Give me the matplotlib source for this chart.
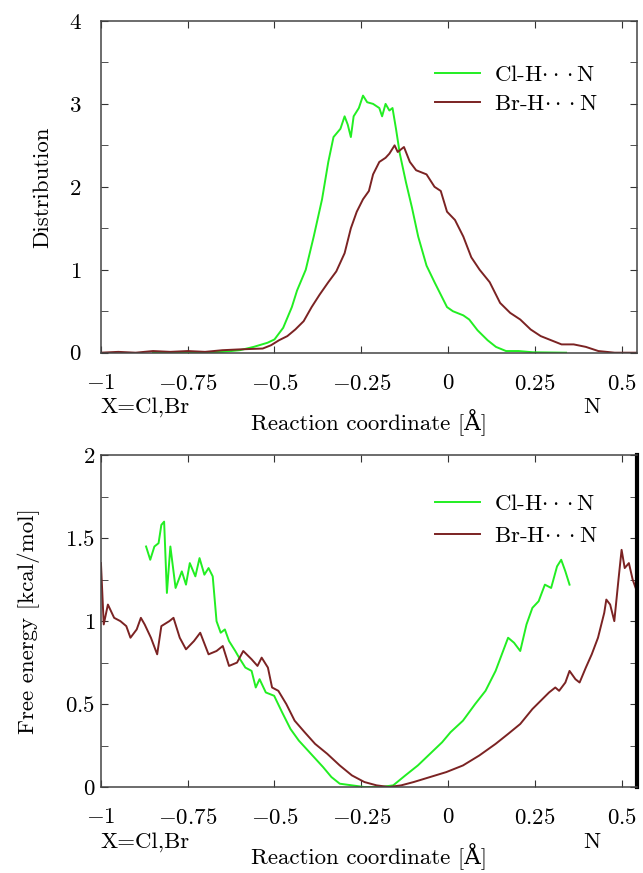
import numpy as np
import matplotlib
matplotlib.use("Agg")
import matplotlib.pyplot as plt
from matplotlib.ticker import MultipleLocator, FuncFormatter

plt.rcParams["font.family"] = ["cmr10", "DejaVu Serif"]
plt.rcParams["mathtext.fontset"] = "cm"
plt.rcParams["axes.unicode_minus"] = False

GREEN = "#22ee22"; BROWN = "#7b2323"
FS = 16.5

# ---- distribution (top) ----
cl_dist_x = [-0.85, -0.75, -0.65, -0.6, -0.56, -0.52, -0.5, -0.475, -0.45, -0.435, -0.41, -0.387,
             -0.363, -0.345, -0.33, -0.31, -0.298, -0.289, -0.28, -0.272, -0.257, -0.245, -0.233,
             -0.216, -0.198, -0.19, -0.18, -0.169, -0.16, -0.15, -0.139, -0.121, -0.104, -0.086,
             -0.062, -0.039, -0.021, -0.003, 0.014, 0.044, 0.061, 0.085, 0.114, 0.138, 0.167,
             0.203, 0.245, 0.34]
cl_dist_y = [0.0, 0.0, 0.01, 0.03, 0.07, 0.12, 0.16, 0.3, 0.55, 0.75, 1.0, 1.4,
             1.85, 2.3, 2.6, 2.7, 2.85, 2.75, 2.6, 2.85, 2.95, 3.1, 3.02,
             3.0, 2.95, 2.85, 3.0, 2.92, 2.95, 2.7, 2.4, 2.05, 1.75, 1.4,
             1.05, 0.85, 0.7, 0.55, 0.5, 0.45, 0.4, 0.27, 0.15, 0.07, 0.02,
             0.02, 0.005, 0.0]
br_dist_x = [-1.0, -0.95, -0.9, -0.85, -0.8, -0.75, -0.7, -0.65, -0.6, -0.534, -0.51, -0.487,
             -0.463, -0.44, -0.416, -0.393, -0.37, -0.345, -0.322, -0.298, -0.28, -0.263, -0.245,
             -0.228, -0.216, -0.198, -0.18, -0.169, -0.154, -0.145, -0.127, -0.11, -0.092, -0.062,
             -0.039, -0.021, -0.003, 0.02, 0.044, 0.067, 0.091, 0.12, 0.15, 0.179, 0.208, 0.238,
             0.267, 0.297, 0.327, 0.362, 0.397, 0.433, 0.48, 0.545]
br_dist_y = [0.0, 0.01, 0.0, 0.02, 0.01, 0.02, 0.01, 0.03, 0.04, 0.05, 0.09, 0.15,
             0.2, 0.28, 0.38, 0.55, 0.7, 0.85, 0.98, 1.2, 1.5, 1.7, 1.85,
             1.95, 2.15, 2.3, 2.35, 2.4, 2.5, 2.42, 2.48, 2.3, 2.2, 2.15,
             2.0, 1.95, 1.7, 1.6, 1.4, 1.15, 1.0, 0.85, 0.6, 0.48, 0.4, 0.28,
             0.2, 0.15, 0.1, 0.1, 0.07, 0.02, 0.0, 0.0]

# ---- free energy (bottom) ----
cl_fe_x = [-0.87, -0.858, -0.846, -0.834, -0.826, -0.818, -0.81, -0.8, -0.785, -0.767, -0.755,
           -0.744, -0.728, -0.716, -0.702, -0.69, -0.678, -0.667, -0.655, -0.643, -0.631, -0.613,
           -0.602, -0.584, -0.566, -0.554, -0.543, -0.525, -0.501, -0.478, -0.454, -0.43, -0.395,
           -0.36, -0.336, -0.312, -0.277, -0.241, -0.194, -0.158, -0.123, -0.087, -0.052, -0.017,
           0.007, 0.043, 0.078, 0.108, 0.137, 0.155, 0.173, 0.19, 0.208, 0.226, 0.243, 0.261,
           0.279, 0.297, 0.314, 0.326, 0.338, 0.35]
cl_fe_y = [1.45, 1.37, 1.45, 1.47, 1.58, 1.6, 1.17, 1.45, 1.2, 1.3, 1.22,
           1.35, 1.27, 1.38, 1.28, 1.32, 1.27, 1.0, 0.93, 0.95, 0.88, 0.82,
           0.78, 0.72, 0.7, 0.6, 0.65, 0.57, 0.55, 0.45, 0.35, 0.28, 0.2,
           0.12, 0.06, 0.02, 0.01, 0.0, 0.0, 0.01, 0.07, 0.13, 0.2, 0.27,
           0.33, 0.4, 0.5, 0.58, 0.7, 0.8, 0.9, 0.87, 0.82, 0.98, 1.08, 1.12,
           1.22, 1.2, 1.33, 1.37, 1.3, 1.22]
br_fe_x = [-1.0, -0.992, -0.98, -0.962, -0.944, -0.927, -0.915, -0.897, -0.885, -0.874, -0.856,
           -0.838, -0.826, -0.803, -0.791, -0.773, -0.755, -0.732, -0.714, -0.69, -0.667, -0.649,
           -0.631, -0.608, -0.59, -0.566, -0.549, -0.537, -0.519, -0.507, -0.489, -0.466, -0.442,
           -0.413, -0.383, -0.348, -0.312, -0.277, -0.241, -0.206, -0.17, -0.135, -0.099, -0.052,
           -0.005, 0.043, 0.09, 0.137, 0.173, 0.208, 0.243, 0.267, 0.291, 0.309, 0.32, 0.338,
           0.35, 0.367, 0.379, 0.397, 0.414, 0.432, 0.45, 0.456, 0.467, 0.479, 0.491, 0.5,
           0.509, 0.521, 0.532, 0.544]
br_fe_y = [1.35, 0.98, 1.1, 1.02, 1.0, 0.97, 0.9, 0.95, 1.02, 0.98, 0.9,
           0.8, 0.97, 1.0, 1.02, 0.9, 0.83, 0.88, 0.93, 0.8, 0.82, 0.85,
           0.73, 0.75, 0.82, 0.77, 0.73, 0.78, 0.72, 0.6, 0.58, 0.5, 0.4,
           0.33, 0.26, 0.2, 0.13, 0.07, 0.03, 0.01, 0.0, 0.01, 0.03, 0.06,
           0.09, 0.13, 0.19, 0.26, 0.32, 0.38, 0.47, 0.52, 0.57, 0.6, 0.58, 0.63,
           0.7, 0.65, 0.63, 0.72, 0.8, 0.9, 1.05, 1.13, 1.1, 1.0, 1.25, 1.43,
           1.32, 1.35, 1.25, 1.18]

xticks = [-1, -0.75, -0.5, -0.25, 0, 0.25, 0.5]
fmt = FuncFormatter(lambda v, p: f"${v:g}$")
cl_lab = r"Cl-H$\cdot\cdot\cdot$N"
br_lab = r"Br-H$\cdot\cdot\cdot$N"

fig = plt.figure(figsize=(6.43, 8.73), dpi=100)
ax1 = fig.add_axes([0.157, 0.596, 0.834, 0.380])
ax2 = fig.add_axes([0.157, 0.0985, 0.834, 0.380])

def style(ax, ymax, ymaj, ymin, ypad):
    ax.set_xlim(-1, 0.545); ax.set_ylim(0, ymax)
    ax.set_xticks(xticks); ax.xaxis.set_major_formatter(fmt)
    ax.yaxis.set_major_locator(MultipleLocator(ymaj)); ax.yaxis.set_minor_locator(MultipleLocator(ymin))
    ax.yaxis.set_major_formatter(fmt)
    ax.tick_params(which="both", direction="in", top=True, right=True, color="#333333")
    ax.tick_params(which="major", length=5, labelsize=FS)
    ax.tick_params(which="minor", length=5)
    ax.tick_params(axis="x", pad=15)
    ax.tick_params(axis="y", pad=ypad)
    for s in ax.spines.values(): s.set_color("#444444"); s.set_linewidth(1.1)
    ax.set_xlabel("Reaction coordinate [Å]", fontsize=FS, labelpad=11)
    ax.text(0.0, -0.165, "X=Cl,Br", transform=ax.transAxes, fontsize=FS, ha="left", va="center")
    ax.text(0.915, -0.165, "N", transform=ax.transAxes, fontsize=FS, ha="center", va="center")

ax1.plot(cl_dist_x, cl_dist_y, color=GREEN, lw=1.4, label=cl_lab)
ax1.plot(br_dist_x, br_dist_y, color=BROWN, lw=1.4, label=br_lab)
style(ax1, 4, 1, 0.5, 14)
ax1.set_ylabel("Distribution", fontsize=FS, labelpad=12)
ax1.legend(loc="upper right", bbox_to_anchor=(0.965, 0.93), frameon=False, fontsize=FS,
           handlelength=2.0, handletextpad=0.6, labelspacing=0.4)

ax2.plot(cl_fe_x, cl_fe_y, color=GREEN, lw=1.4, label=cl_lab)
ax2.plot(br_fe_x, br_fe_y, color=BROWN, lw=1.4, label=br_lab)
style(ax2, 2, 0.5, 0.25, 4)
ax2.set_ylabel("Free energy [kcal/mol]", fontsize=FS, labelpad=18)
ax2.spines["right"].set_color("black"); ax2.spines["right"].set_linewidth(3)
ax2.legend(loc="upper right", bbox_to_anchor=(0.965, 0.945), frameon=False, fontsize=FS,
           handlelength=2.0, handletextpad=0.6, labelspacing=0.5)

fig.savefig("out.png", dpi=100)
